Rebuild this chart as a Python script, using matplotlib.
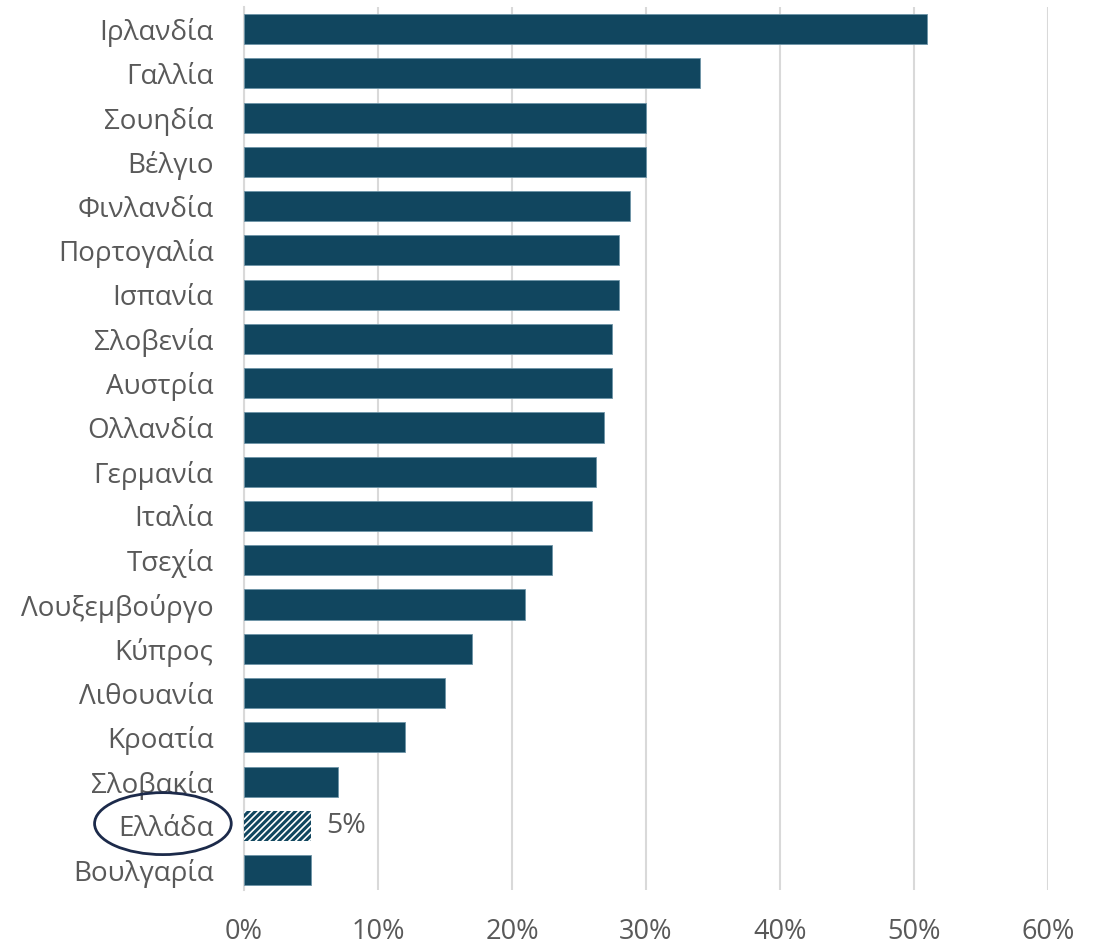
import matplotlib
matplotlib.use('Agg')
import matplotlib.pyplot as plt
from matplotlib.patches import Ellipse

countries = ['Ιρλανδία', 'Γαλλία', 'Σουηδία', 'Βέλγιο', 'Φινλανδία', 'Πορτογαλία',
             'Ισπανία', 'Σλοβενία', 'Αυστρία', 'Ολλανδία', 'Γερμανία', 'Ιταλία',
             'Τσεχία', 'Λουξεμβούργο', 'Κύπρος', 'Λιθουανία', 'Κροατία', 'Σλοβακία',
             'Ελλάδα', 'Βουλγαρία']
values = [51, 34, 30, 30, 28.8, 28, 28, 27.5, 27.5, 26.9, 26.3, 26,
          23, 21, 17, 15, 12, 7, 5, 5]
xticks = [0, 10, 20, 30, 40, 50, 60]
highlight = 'Ελλάδα'

bar_color = '#11465F'
text_color = '#595959'

plt.rcParams['font.family'] = ['Open Sans', 'DejaVu Sans']
plt.rcParams['hatch.linewidth'] = 2.2

fig = plt.figure(figsize=(11.02, 9.44), dpi=100)
ax = fig.add_axes([0.2214, 0.0572, 0.7296, 0.9354])

ypos = list(range(len(countries)))
for y, c, v in zip(ypos, countries, values):
    if c == highlight:
        ax.barh(y, v, height=0.68, color='white', edgecolor=bar_color,
                hatch='/////', linewidth=0, zorder=3)
        ax.annotate(f'{v:g}%', xy=(v, y), xytext=(11, 0), textcoords='offset points',
                    va='center', ha='left', fontsize=20.5, color=text_color)
    else:
        ax.barh(y, v, height=0.68, color=bar_color, edgecolor='#6d94a8',
                linewidth=0.6, zorder=3)

ax.set_ylim(len(countries) - 0.55, -0.5)
ax.set_xlim(0, 60)
ax.set_yticks(ypos)
ax.set_yticklabels(countries, fontsize=20, color=text_color)
ax.set_xticks(xticks)
ax.set_xticklabels([f'{t}%' for t in xticks], fontsize=19.5, color=text_color)
ax.tick_params(axis='both', length=0)
ax.tick_params(axis='y', pad=22)
ax.tick_params(axis='x', pad=20)

ax.grid(axis='x', color='#D9D9D9', linewidth=1.5, zorder=0)
for s in ['top', 'right', 'bottom']:
    ax.spines[s].set_visible(False)
ax.spines['left'].set_color('#D9D9D9')
ax.spines['left'].set_linewidth(1.5)

# circle around Greece label
gi = countries.index(highlight)
ell = Ellipse((-6.05, gi - 0.05), width=10.2, height=1.4, fill=False,
              edgecolor='#1C2A4A', linewidth=2, clip_on=False, zorder=5)
ax.add_patch(ell)

plt.savefig('out.png', dpi=100)
